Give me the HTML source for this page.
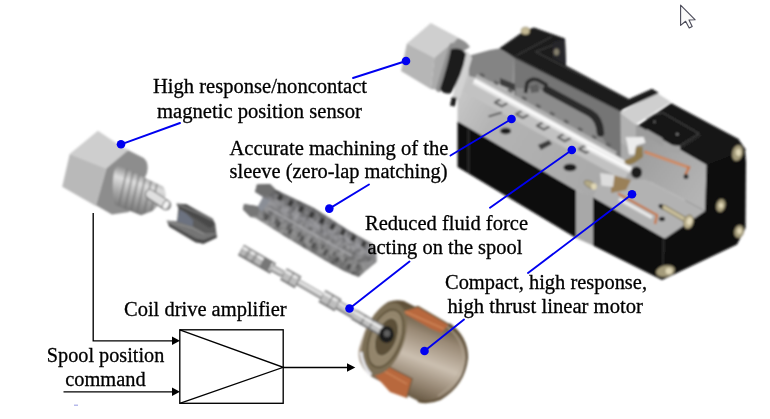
<!DOCTYPE html>
<html>
<head>
<meta charset="utf-8">
<style>
html,body{margin:0;padding:0;background:#fff;}
body{width:770px;height:419px;overflow:hidden;font-family:"Liberation Serif",serif;}
svg{display:block;}
text{font-family:"Liberation Serif",serif;font-size:20.5px;fill:#000;stroke:#000;stroke-width:0.3px;}
</style>
</head>
<body>
<svg width="770" height="419" viewBox="0 0 770 419">
<defs>
<filter id="b1" x="-5%" y="-5%" width="110%" height="110%"><feGaussianBlur stdDeviation="0.85"/></filter>
<filter id="b2" x="-5%" y="-5%" width="110%" height="110%"><feGaussianBlur stdDeviation="1.1"/></filter>
<filter id="nz" x="0" y="0" width="100%" height="100%"><feTurbulence type="fractalNoise" baseFrequency="0.16" numOctaves="2" seed="4" result="n"/><feColorMatrix in="n" type="matrix" values="0 0 0 0 0  0 0 0 0 0  0 0 0 0 0  2.6 0 0 0 -1.0" result="a"/><feComposite in="a" in2="SourceGraphic" operator="in"/></filter>
<filter id="nzw" x="0" y="0" width="100%" height="100%"><feTurbulence type="fractalNoise" baseFrequency="0.2" numOctaves="2" seed="9" result="n"/><feColorMatrix in="n" type="matrix" values="0 0 0 0 1  0 0 0 0 1  0 0 0 0 1  0 2.4 0 0 -1.0" result="a"/><feComposite in="a" in2="SourceGraphic" operator="in"/></filter>
<filter id="bt" x="-2%" y="-10%" width="104%" height="120%"><feGaussianBlur stdDeviation="0.35"/></filter>
</defs>
<rect width="770" height="419" fill="#fff"/>

<!-- ===== PARTS ===== -->
<g id="parts" filter="url(#b1)">

<!-- lower body: black faces -->
<polygon points="457.5,121 576,190 576,238 457.5,167" fill="#0e0e0e"/>
<line x1="468.7" y1="128" x2="468.7" y2="173" stroke="#3a3a3a" stroke-width="1"/>
<polygon points="576,190 593,196 593,245.5 576,238" fill="#a8a8a8"/>
<polygon points="593,197 665,238.5 662,280 593,245.5" fill="#0b0b0b"/>
<polygon points="664,238 705,166 738,138.5 745,150 746,162 745.5,228 737,244.5 662,280" fill="#0d0d0d"/>
<polygon points="560,120 640,125 650,182 600,196 560,170" fill="#a6a6a6"/>
<line x1="663.8" y1="239" x2="662.2" y2="279" stroke="#3c3c3c" stroke-width="1"/>
<!-- valve cut plate -->
<linearGradient id="gpl" x1="457" y1="100" x2="600" y2="180" gradientUnits="userSpaceOnUse"><stop offset="0" stop-color="#c6c6c6"/><stop offset="0.25" stop-color="#b4b4b4"/><stop offset="1" stop-color="#a9a9a9"/></linearGradient>
<polygon points="457.5,88 462,64 500,58 640,150 610,188 593,197 576,190 457.5,121" fill="url(#gpl)"/>
<!-- motor section floor plate -->
<polygon points="593,197 600,182 646,179.4 705,211 665,238.5" fill="#b2b2b2"/>
<!-- motor cut wall -->
<linearGradient id="gwl" x1="640" y1="140" x2="705" y2="190" gradientUnits="userSpaceOnUse"><stop offset="0" stop-color="#9c9c9c"/><stop offset="1" stop-color="#b4b4b4"/></linearGradient>
<polygon points="636,124 706.5,165 705,211 646,179.4 636,160" fill="url(#gwl)"/>
<!-- motor black top -->
<polygon points="638,125.6 671,103 738,138.7 746,150 706.5,165" fill="#151515"/>
<!-- light block -->
<polygon points="620,112.5 656.6,92.8 671,102 635.6,124.3" fill="#cfcfcf"/>
<polygon points="620,112.5 635.6,124.3 636,152 620,142" fill="#b2b2b2"/>

<!-- sleeve channel in plate -->
<line x1="466" y1="84" x2="628" y2="173.5" stroke="#c2c2c2" stroke-width="16"/>
<path d="M500.9 98.9 L494.9 102.5 L501.9 106.4 L507.9 102.8 M522.0 110.6 L515.9 114.1 L522.9 118.0 L529.0 114.4 M543.0 122.2 L536.9 125.7 L543.9 129.6 L550.0 126.0 M564.0 133.8 L557.9 137.4 L564.9 141.2 L571.0 137.7 M585.0 145.4 L578.9 149.0 L585.9 152.8 L592.0 149.3" fill="none" stroke="#626262" stroke-width="2.2" stroke-linejoin="round"/>
<!-- holes in plate -->
<ellipse cx="505.6" cy="131" rx="5.5" ry="3.2" fill="#1c1c1c"/>
<ellipse cx="570" cy="167.5" rx="6.5" ry="3.8" fill="#1c1c1c"/>
<polygon points="538,145 549,140 552,144 541,150" fill="#3a3a3a"/>
<line x1="488.6" y1="116.4" x2="501.7" y2="112.5" stroke="#3a3a3a" stroke-width="1.6"/>
<!--LOWERBODY-->

<!-- upper housing cut face -->
<polygon points="468,56 490,50 499,48.5 514.4,56 514.4,88 469,76" fill="#848484"/>
<line x1="514.6" y1="57" x2="513" y2="84" stroke="#9c9c9c" stroke-width="1.2"/>
<polygon points="514.4,56 620.4,110.3 621,158 514.4,99" fill="#747474"/>
<polygon points="503,50 629,99.5 621,112 514.4,58" fill="#3a3a3a"/>
<!-- black L bracket -->
<polygon points="499,48.5 524,31 534,27.5 565,38.5 566,65.5 629,99 652,88.8 659,93 620.4,110.5" fill="#1a1a1a"/>

<!-- lighter D region + black curve in cut face -->
<path d="M546 90 L590 113 Q599 118 600 134 L612 152 L516 99 L516 88 Z" fill="#8c8c8c"/>
<path d="M546.5 89.5 L590 113 Q599.5 118.5 600.5 133" fill="none" stroke="#2a2a2a" stroke-width="7.5" stroke-linecap="round"/>
<path d="M525.5 93 L527 83 Q531 77.5 538 80 L546 84.5 L546.5 91" fill="none" stroke="#2c2c2c" stroke-width="3.6" stroke-linejoin="round"/>
<polygon points="530,86 538,84 539,92 531,93" fill="#5e5e5e"/>
<polygon points="500,78 515,84 515,91 500,85" fill="#3c3c3c"/>
<path d="M516.5 55.5 L552 36.5 M535.5 51.8 L565 40.5 M535.5 51.8 L629 99.5" stroke="#4c4c4c" stroke-width="0.9" fill="none"/>
<polygon points="553,42 565,39 566,65 553,58" fill="#26262c"/>
<line x1="480" y1="74" x2="612" y2="147" stroke="#5e5e5e" stroke-width="3.4" stroke-dasharray="5 11" opacity="0.9"/>
<line x1="476" y1="76" x2="616" y2="153.5" stroke="#b4b4b4" stroke-width="4" opacity="0.9"/>
<line x1="474" y1="80.8" x2="628" y2="165.8" stroke="#e6e6e6" stroke-width="6.5"/>
<line x1="474" y1="80.4" x2="628" y2="165.4" stroke="#ffffff" stroke-width="2.2"/>
<!--UPPERBODY-->

<!-- sensor on body: hex nut then flange rings -->
<polygon points="430.8,23 458.2,37.4 434.4,57.7 406.9,43.4" fill="#cfcfcf"/>
<polygon points="406.9,43.4 434.4,57.7 430.8,89 401,71" fill="#b6b6b6"/>
<polygon points="434.4,57.7 458.2,37.4 452,52 445,70 439,90 430.8,89" fill="#ababab"/>
<path d="M458 38 Q466 41 470 47 L462 52 L450 50 Z" fill="#8e8e8e"/>
<line x1="452" y1="46" x2="439" y2="89" stroke="#8e8e8e" stroke-width="6" stroke-linecap="round"/>
<path d="M462 50 Q470 52 472 58 L460 98 L452 100 Z" fill="#d2d2d2"/>
<path d="M451 49 Q462 47 466 54 Q462 76 451 93 Q444 95 440 89 Q447 68 451 49 Z" fill="#1c1c1c"/>
<rect x="451" y="97" width="5" height="9" fill="#1c1c1c" transform="rotate(12 453 101)"/>
<!-- bolts -->
<g fill="#a59c7c" stroke="#6e654a" stroke-width="0.6">
<ellipse cx="525.5" cy="31" rx="4.3" ry="3.8" fill="#c4b994"/>
<ellipse cx="556.5" cy="52" rx="2.8" ry="3.6" fill="#86816e" stroke="#4c4a42"/>
<ellipse cx="737.5" cy="153" rx="5.2" ry="8" transform="rotate(14 737.5 153)"/>
<ellipse cx="720.8" cy="205.5" rx="4.4" ry="6.5" transform="rotate(14 720.8 205.5)"/>
<ellipse cx="739" cy="231.5" rx="4.6" ry="6.4" transform="rotate(14 739 231.5)"/>
<ellipse cx="665.5" cy="271" rx="9.5" ry="5.5" transform="rotate(-12 665.5 271)"/>
<ellipse cx="590" cy="184.5" rx="6.5" ry="3.2" transform="rotate(28 590 184.5)" fill="#b4aa88"/>
</g>
<g fill="#e0d7b6">
<ellipse cx="738.5" cy="152.5" rx="2.6" ry="3.4"/>
<ellipse cx="721" cy="205.5" rx="2.2" ry="2.8"/>
<ellipse cx="739.5" cy="231" rx="2.3" ry="2.9"/>
<ellipse cx="669" cy="271" rx="3.4" ry="3.2"/>
<ellipse cx="594" cy="186.5" rx="2.8" ry="3.2"/>
</g>
<ellipse cx="662.5" cy="207" rx="4.2" ry="2.2" fill="#161616" transform="rotate(28 662.5 207)"/>
<path d="M664.5 207.5 L686 220" stroke="#7a7052" stroke-width="5.4" stroke-linecap="round"/>
<path d="M664.5 207.5 L686 220" stroke="#c9bf9c" stroke-width="3.6" stroke-linecap="round"/>
<ellipse cx="688.5" cy="221.8" rx="4.8" ry="7" fill="#b9af8c" stroke="#6e654a" stroke-width="0.7" transform="rotate(15 688.5 221.8)"/>
<ellipse cx="689.5" cy="221.2" rx="2.6" ry="3.8" fill="#e4dbbc" transform="rotate(15 689.5 221.2)"/>
<!-- motor top insets -->
<path d="M653.6 114.5 L662.7 112.7 L699 133.6 L679 146.4 M646 119 L654 114.5" stroke="#5a5a5a" stroke-width="0.9" fill="none"/>
<path d="M701 135 L681 148" stroke="#444" stroke-width="0.8" fill="none"/>
<circle cx="654.5" cy="121.8" r="1.1" fill="#777"/><circle cx="677.3" cy="134.2" r="1.2" fill="#888"/>
<!-- wall steps below black top -->
<polygon points="646.4,129 662.7,138.2 662.7,146 646.4,137" fill="#9c9c9c"/>
<polygon points="664.5,144.5 680,146 680,153.5 664.5,151" fill="#a4a4a4"/>
<!-- white bobbin -->
<polygon points="625.5,137.3 643.6,137 645.5,142.7 636.4,145.5 634.5,154.5 629,154.5 627.3,143.6" fill="#ececec"/>
<!-- brown former -->
<polygon points="636,147 642.5,146.5 643,157 634.5,163 625,166.5 624.5,160.5 634.5,156" fill="#8f7a4e"/>
<polygon points="611,174.5 631,180 626,190 611,193" fill="#9a8058"/>
<!-- spool end inside body -->
<line x1="587" y1="147" x2="631" y2="170" stroke="#e4e4e4" stroke-width="6"/>
<line x1="587" y1="146.5" x2="631" y2="169.5" stroke="#ffffff" stroke-width="2"/>
<ellipse cx="636.5" cy="172.5" rx="5.5" ry="6" fill="#1e1e1e"/>
<!-- white block near bolt -->
<polygon points="600,173 614.5,175 613,187 601.5,185.5" fill="#dddddd"/>
<!-- copper strips -->
<path d="M644.5 151.8 L689 167.5 L685.5 174.5" fill="none" stroke="#c67848" stroke-width="2.6"/>
<path d="M646 152.5 L687 167" fill="none" stroke="#e2a27a" stroke-width="0.9"/>
<ellipse cx="686" cy="176.5" rx="2.4" ry="2.6" fill="#2a2a2a"/>
<path d="M618 193.5 L657 215 L655 224" fill="none" stroke="#c67848" stroke-width="2.4"/>
<path d="M619 199 L652 217.5" fill="none" stroke="#e8e8e8" stroke-width="3.2"/>
<ellipse cx="662" cy="219" rx="3" ry="2.2" fill="#1a1a1a"/>
<!--SENSORTOP-->

<!-- left sensor -->
<g>
<path d="M106.4 168.6 L123.7 148 L143.7 158 Q149.5 163 147 173 L129 212 L112 214.5 L95.9 205.3 Z" fill="#8d8d8d"/>
<polygon points="97.9,130.7 123.7,148 128.5,150 106.4,168.6 69.7,154.1" fill="#cecece"/>
<polygon points="69.7,154.1 106.4,168.6 95.9,206 62.2,186.8" fill="#b9b9b9"/>
<!-- thread -->
<linearGradient id="gth" x1="128" y1="168" x2="114" y2="212" gradientUnits="userSpaceOnUse"><stop offset="0" stop-color="#8a8a8a"/><stop offset="0.25" stop-color="#dedede"/><stop offset="0.55" stop-color="#a8a8a8"/><stop offset="1" stop-color="#666"/></linearGradient>
<path d="M114 172 Q116 165 121 166.5 L163 186.5 Q167 192 165 198 L152.5 211 L141 215.2 L115 205 Q111 190 114 172 Z" fill="url(#gth)"/>
<g stroke="#6e6e6e" stroke-width="1.5" fill="none" opacity="0.75">
<path d="M127 169 L119 205"/><path d="M133 172 L125 209"/><path d="M139 175 L131 211"/><path d="M145 178 L137 213"/><path d="M151 181 L144 213"/><path d="M157 184 L151 211"/>
</g>
<path d="M150 194.5 L166 205" stroke="#858585" stroke-width="10.5" stroke-linecap="round"/>
<path d="M150 194 L166 204.5" stroke="#e0e0e0" stroke-width="7.5" stroke-linecap="round"/>
<ellipse cx="166" cy="205" rx="3.2" ry="4.6" fill="#f4f4f4" stroke="#858585" stroke-width="1.1" transform="rotate(25 166 205)"/>
</g>
<!-- clip -->
<g>
<polygon points="178.4,208.1 186.3,204.2 212.6,218.7 216.8,237.5 203.4,243.8 169.2,226.5 177.1,221.3" fill="#5c5c5c"/>
<polygon points="179.7,209.5 186.3,213.4 194,221.3 193,227 179.7,223.9 177.1,221.3" fill="#6c7280"/>
<polygon points="192.9,221.3 199.4,221.3 209.9,227.9 215.2,223.9 216.8,237 215.2,233.1 204.7,233.1 192.9,226.5" fill="#5c5c5c"/>
<polygon points="166.6,220.6 177.1,221.3 192.9,226.5 204.7,233.1 215.2,233.1 216.8,237.5 203.4,243.8 195.5,242.3 169.2,226.5" fill="#747474"/>
<polygon points="169.2,226.5 195.5,242.3 203.4,243.8 216.8,237.5 216,235 203.5,240 196,238.5 168,223" fill="#484848"/>
<polygon points="176.4,203.5 186.3,204.2 199.4,212.1 212.6,218.7 215.4,224.2 209.9,228.2 199.4,221.3 185,212.1 178.4,208.1" fill="#4a4a4a"/>
<path d="M178 204.6 L199 213.5 L212.5 220.3" stroke="#7a7a7a" stroke-width="1.6" fill="none"/>
<path d="M168 221.5 L192 228 L204.5 234.5" stroke="#8c8c8c" stroke-width="1.4" fill="none"/>
</g>
<!--SENSORLEFT-->

<!-- sleeve -->
<g>
<linearGradient id="gsl" x1="325" y1="206" x2="303" y2="252" gradientUnits="userSpaceOnUse"><stop offset="0" stop-color="#5e5e5e"/><stop offset="0.22" stop-color="#747476"/><stop offset="0.42" stop-color="#96969a"/><stop offset="0.6" stop-color="#88888a"/><stop offset="0.8" stop-color="#8e8e8e"/><stop offset="1" stop-color="#666"/></linearGradient>
<path id="slv" d="M257 184.5 L270 184 L275.5 189.5 L291 197 L313.7 207.8 L350.5 231.4 L371.5 243.2 Q378 251 376.5 262 L358.5 277 L344 271 L326.9 261.6 L287.5 238 L256 218.3 L250.5 217 L243 209.5 L244 204 L259.5 206.5 L263 197 L255 192 Z" fill="url(#gsl)"/>
<use href="#slv" fill="#000" filter="url(#nz)" opacity="0.26"/>
<use href="#slv" fill="#fff" filter="url(#nzw)" opacity="0.14"/>
<path d="M281.5 194.8 l-2.7 5.3 M292.0 200.6 l-2.7 5.3 M302.4 206.4 l-2.7 5.3 M312.9 212.3 l-2.7 5.3 M323.3 218.1 l-2.7 5.3 M333.8 223.9 l-2.7 5.3 M344.2 229.8 l-2.7 5.3 M354.7 235.6 l-2.7 5.3 M365.1 241.4 l-2.7 5.3" stroke="#343434" stroke-width="4.4" fill="none" opacity="0.9"/>
<path d="M266.0 212.8 l-2.2 4.5 M277.5 219.2 l-2.2 4.5 M289.1 225.7 l-2.2 4.5 M300.6 232.1 l-2.2 4.5 M312.2 238.6 l-2.2 4.5 M323.8 245.0 l-2.2 4.5 M335.3 251.4 l-2.2 4.5 M346.9 257.9 l-2.2 4.5 M358.4 264.3 l-2.2 4.5" stroke="#555" stroke-width="3" fill="none" opacity="0.7"/>
<path d="M267.9 215.0 l-2.7 5.3 M279.7 222.0 l-2.7 5.3 M291.4 229.0 l-2.7 5.3 M303.2 236.0 l-2.7 5.3 M314.9 243.0 l-2.7 5.3 M326.7 250.0 l-2.7 5.3 M338.4 257.0 l-2.7 5.3 M350.2 264.0 l-2.7 5.3" stroke="#484848" stroke-width="3.6" fill="none" opacity="0.8"/>
<path d="M268 208 L352 256" stroke="#a9a9ad" stroke-width="2.4" fill="none" opacity="0.7"/>
<path d="M257 184.5 L270 184 L275.5 189.5 L268 196 L255 192 Z" fill="#6e6e6e"/>
<path d="M243 209.5 L244 204 L259.5 206.5 L258 215 L250.5 217 Z" fill="#767676"/>
<path d="M263 197 L270 200.5 L262 212 L257.5 207 Z" fill="#8a8e96"/>
</g>
<!--SLEEVE-->

<!-- spool -->
<g stroke-linecap="butt">
<path d="M241 250 L273 268.5" stroke="#6c6c6c" stroke-width="12"/>
<path d="M241.8 250 L272.5 267.8" stroke="#b8b8b8" stroke-width="9"/>
<path d="M243 247.5 L272 264.5" stroke="#efefef" stroke-width="2.6"/>
<path d="M246 253 L249 254.8 M253 257 L256 258.8" stroke="#7a7a7a" stroke-width="9" opacity="0.55"/>
<path d="M262 262 L270 266.5" stroke="#777" stroke-width="9.5"/>
<path d="M272 268 L282 273.5" stroke="#777" stroke-width="7"/>
<path d="M272 267.6 L282 273.1" stroke="#cfcfcf" stroke-width="4.4"/>
<path d="M282 273 L352 313.5" stroke="#6e6e6e" stroke-width="6.6"/>
<path d="M282 272.6 L352 313.1" stroke="#c8c8c8" stroke-width="4.2"/>
<path d="M284 272.6 L350 310.6" stroke="#f2f2f2" stroke-width="1.3"/>
<path d="M283.5 274 L298 282.4" stroke="#6e6e6e" stroke-width="13.5"/>
<path d="M284.2 274 L297.3 281.6" stroke="#bebebe" stroke-width="10.5"/>
<path d="M285 271 L297 278" stroke="#ededed" stroke-width="2.4"/>
<path d="M290 277.5 L291.5 278.4" stroke="#777" stroke-width="11" opacity="0.6"/>
<path d="M322 296 L338 305.2" stroke="#6e6e6e" stroke-width="14"/>
<path d="M322.7 296 L337.3 304.4" stroke="#bebebe" stroke-width="11"/>
<path d="M323.5 293 L337 300.8" stroke="#ededed" stroke-width="2.4"/>
<path d="M329.5 300 L331 300.9" stroke="#777" stroke-width="11.5" opacity="0.6"/>
<path d="M338 305 L356 315.5" stroke="#6e6e6e" stroke-width="9"/>
<path d="M338 304.6 L356 315.1" stroke="#c4c4c4" stroke-width="6.4"/>
<path d="M339 303 L355 312.3" stroke="#f0f0f0" stroke-width="1.8"/>
</g>
<!--SPOOL-->

<!-- motor coil -->
<g>
<linearGradient id="gmb" x1="432" y1="316" x2="400" y2="400" gradientUnits="userSpaceOnUse"><stop offset="0" stop-color="#5e5038"/><stop offset="0.22" stop-color="#9a8a76"/><stop offset="0.5" stop-color="#cbbfb0"/><stop offset="0.78" stop-color="#8e7e6a"/><stop offset="1" stop-color="#564832"/></linearGradient>
<path d="M388 302 Q396 299 404 301 L449 324 Q467 337 467 358 Q464 385 440 399 Q428 404 418 401 L372 377 Q356 364 359 348 Q368 314 388 302 Z" fill="url(#gmb)"/>
<!-- rear rim -->
<path d="M449 324 Q467 337 467 358 Q464 385 440 399 Q428 404 418 401" fill="none" stroke="#5a4a30" stroke-width="2.2"/>
<path d="M446.5 326 Q463 339 463.5 358 Q460 382 438 396" fill="none" stroke="#b8ab98" stroke-width="1.2" opacity="0.8"/>
<!-- copper patches -->
<polygon points="400.9,311.5 418,306.6 449,324.6 441,333 431,328.7" fill="#b8683c"/>
<path d="M404 311 L444 329" stroke="#d38b5e" stroke-width="1.5" opacity="0.8"/>
<polygon points="370.8,357.3 412.3,378.8 406.6,398 390,392 373.7,374" fill="#b8683c"/>
<path d="M375 366 L407 384" stroke="#d38b5e" stroke-width="1.5" opacity="0.7"/>
<path d="M400.9 311.5 L418 306.6 L449 324.6" fill="none" stroke="#6a5a3e" stroke-width="1.4"/>
<path d="M370.8 357.3 L412.3 378.8 L406.6 398" fill="none" stroke="#6a5a3e" stroke-width="1.2"/>
<!-- front plate -->
<ellipse cx="384" cy="339" rx="20" ry="38" transform="rotate(20 384 339)" fill="#7c6e54"/>
<ellipse cx="385.5" cy="338.5" rx="15.5" ry="30" transform="rotate(20 385.5 338.5)" fill="#93856c" stroke="#564a32" stroke-width="1.4"/>
<ellipse cx="386.5" cy="337" rx="10.5" ry="20" transform="rotate(20 386.5 337)" fill="#5c5038" stroke="#a4977e" stroke-width="1"/>
<path d="M361 352 Q362.5 366 371 375" stroke="#e6e6ea" stroke-width="3" fill="none"/>
</g>
<!-- shaft into hub -->
<g stroke-linecap="butt">
<path d="M354 314.5 L384 332" stroke="#6e6e6e" stroke-width="11"/>
<path d="M354 314 L384 331.5" stroke="#c2c2c2" stroke-width="8"/>
<path d="M362 319.5 L364 320.7 M370 324.2 L372 325.4" stroke="#777" stroke-width="11" opacity="0.6"/>
<path d="M355 312.5 L383 329" stroke="#f4f4f4" stroke-width="2"/>
</g>
<ellipse cx="386.5" cy="334.5" rx="7.5" ry="8.5" fill="#1c1c1c"/>
<ellipse cx="387" cy="333.5" rx="3.2" ry="3.6" fill="#5e5e5e"/>
<!--MOTOR-->
</g>

<!-- ===== BLOCK DIAGRAM ===== -->
<g stroke="#000" stroke-width="1.35" fill="none" filter="url(#bt)">
<rect x="179.8" y="329.8" width="103.4" height="73.5"/>
<path d="M179.8 329.8 L283.2 367.3 L179.8 403.3"/>
<path d="M93.2 213 V340.8 H174"/>
<path d="M63.5 391.8 H174"/>
<path d="M283.2 367.5 H349"/>
</g>
<g fill="#000">
<path d="M180 340.8 L172 336.6 V345 Z"/>
<path d="M180 391.8 L172 387.6 V396 Z"/>
<path d="M355.3 367.5 L347 363.2 V371.8 Z"/>
</g>

<!-- ===== LEADER LINES ===== -->
<g stroke="#0000f0" stroke-width="1.9" fill="none" stroke-linecap="round" filter="url(#bt)">
<path d="M121 144.3 L180 123"/>
<path d="M353 78 L406 61"/>
<path d="M329.3 208.6 L369 184.5"/>
<path d="M450.5 155.5 L511.5 119"/>
<path d="M490 207.8 L571.8 150"/>
<path d="M349.5 308.5 L409.5 261.5"/>
<path d="M528 273 L632 194.3"/>
<path d="M424.5 351 L464 319.5"/>
</g>
<g fill="#0000f0">
<circle cx="121" cy="144.3" r="4.3"/>
<circle cx="406" cy="61" r="4.3"/>
<circle cx="329.3" cy="208.6" r="4.3"/>
<circle cx="511.5" cy="119" r="4.3"/>
<circle cx="571.8" cy="150" r="4.3"/>
<circle cx="349.5" cy="308.5" r="4.3"/>
<circle cx="632" cy="194.3" r="4.3"/>
<circle cx="424.5" cy="351" r="4.3"/>
</g>

<!-- ===== TEXT ===== -->
<g filter="url(#bt)">
<text x="153" y="92.8" textLength="214" lengthAdjust="spacingAndGlyphs">High response/noncontact</text>
<text x="157" y="117.6" textLength="205" lengthAdjust="spacingAndGlyphs">magnetic position sensor</text>
<text x="229.5" y="154.8" textLength="219" lengthAdjust="spacingAndGlyphs">Accurate machining of the</text>
<text x="229.5" y="178.4" textLength="218" lengthAdjust="spacingAndGlyphs">sleeve (zero-lap matching)</text>
<text x="365" y="229.6" textLength="163" lengthAdjust="spacingAndGlyphs">Reduced fluid force</text>
<text x="367.4" y="253.6" textLength="155" lengthAdjust="spacingAndGlyphs">acting on the spool</text>
<text x="445" y="288.7" textLength="202" lengthAdjust="spacingAndGlyphs">Compact, high response,</text>
<text x="447.4" y="312.5" textLength="195.5" lengthAdjust="spacingAndGlyphs">high thrust linear motor</text>
<text x="124" y="316.3" textLength="162.7" lengthAdjust="spacingAndGlyphs">Coil drive amplifier</text>
<text x="46.8" y="362.2" textLength="117.5" lengthAdjust="spacingAndGlyphs">Spool position</text>
<text x="65.2" y="386.3" textLength="80.5" lengthAdjust="spacingAndGlyphs">command</text>
</g>

<rect x="74" y="404.6" width="4" height="1.2" fill="#a6aae6"/>
<!-- ===== CURSOR ===== -->
<path d="M680.6 5.2 V25.4 L685.6 21.3 L689.2 28 L692.2 26.4 L689 20 L695.2 19.8 Z" fill="#fafafa" stroke="#4a4a58" stroke-width="1.1" stroke-linejoin="round"/>
</svg>
</body>
</html>
